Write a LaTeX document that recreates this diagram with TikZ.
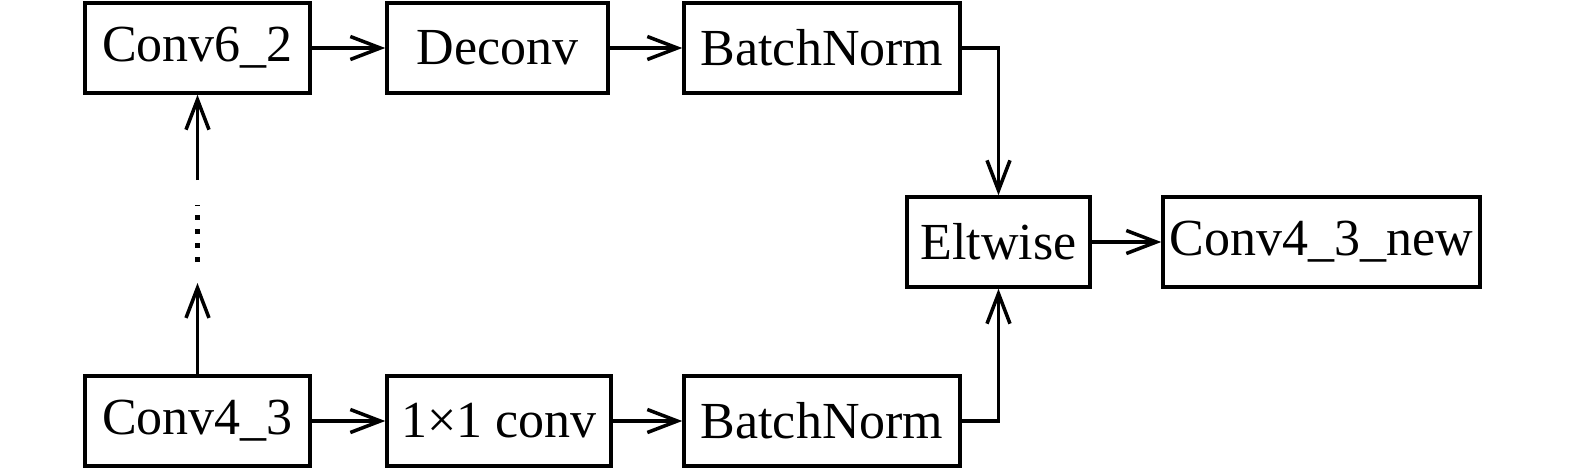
\documentclass[tikz,border=0pt]{standalone}
\usepackage{fontspec}
\setmainfont{Liberation Serif}
\usetikzlibrary{arrows.meta}

\tikzset{
    blk/.style={draw, line width=1pt, minimum height=0.9cm, inner sep=0pt,
        font=\fontsize{14.8}{17}\selectfont},
    arr/.style={line width=1pt, -{Straight Barb[length=3mm,width=2.3mm]}},
}

\begin{document}
\begin{tikzpicture}
        \useasboundingbox (0,0) rectangle (15.75,4.72);

        \node[blk, minimum width=2.25cm] (conv62) at (1.975,4.24) {Conv6\_2};
        \node[blk, minimum width=2.21cm] (deconv) at (4.975,4.24) {Deconv};
        \node[blk, minimum width=2.76cm] (bntop) at (8.22,4.24) {BatchNorm};
        \node[blk, minimum width=1.83cm] (elt) at (9.985,2.30) {Eltwise};
        \node[blk, minimum width=3.17cm] (out) at (13.215,2.30) {Conv4\_3\_new};
        \node[blk, minimum width=2.25cm] (conv43) at (1.975,0.51) {Conv4\_3};
        \node[blk, minimum width=2.24cm] (onebyone) at (4.99,0.51) {1×1 conv};
        \node[blk, minimum width=2.76cm] (bnbot) at (8.22,0.51) {BatchNorm};

        \coordinate (gaplow) at (1.975,1.89);
        \coordinate (dotlow) at (1.975,2.10);
        \coordinate (dothigh) at (1.975,2.67);
        \coordinate (gaphigh) at (1.975,2.92);

        \draw[arr] (conv62) -- (deconv);
        \draw[arr] (deconv) -- (bntop);
        \draw[arr] (bntop.east) -| (elt.north);
        \draw[arr] (elt) -- (out);
        \draw[arr] (conv43) -- (onebyone);
        \draw[arr] (onebyone) -- (bnbot);
        \draw[arr] (bnbot.east) -| (elt.south);

        \draw[arr] (conv43.north) -- (gaplow);
        \draw[line width=1.2pt, dash pattern=on 1.5pt off 2.5pt] (dotlow) -- (dothigh);
        \draw[arr] (gaphigh) -- (conv62.south);
    \end{tikzpicture}
\end{document}
